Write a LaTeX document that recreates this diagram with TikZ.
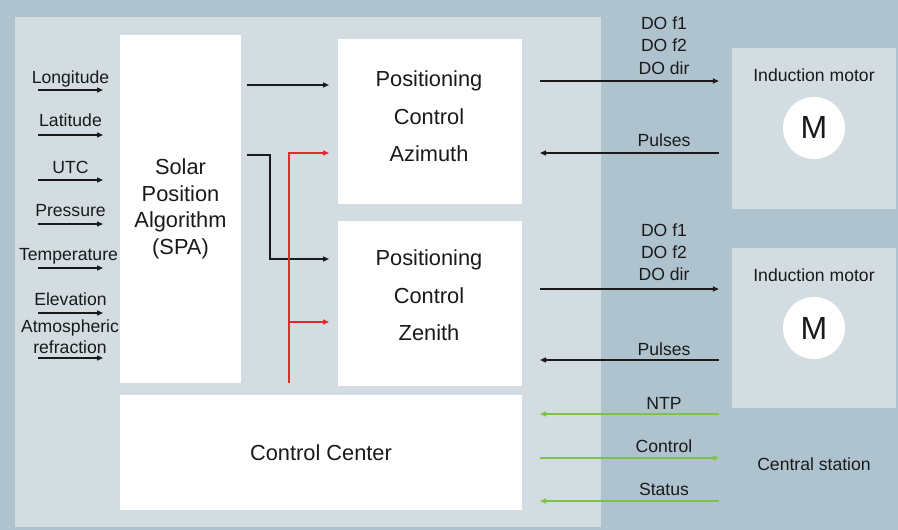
\documentclass[tikz,border=0pt]{standalone}
\usepackage{fontspec}
\setmainfont{Liberation Sans}
\usetikzlibrary{arrows.meta,calc}
\definecolor{outerbg}{HTML}{AFC3CE}
\definecolor{panelbg}{HTML}{D3DCE0}
\definecolor{ink}{HTML}{1A1A1A}
\definecolor{redl}{HTML}{E4262E}
\definecolor{greenl}{HTML}{7DC24A}
\begin{document}
\begin{tikzpicture}[x=1pt,y=-1pt,
  box/.style={fill=white,draw=none,inner sep=0pt,outer sep=0pt},
  lbl/.style={font=\fontsize{17.6}{22}\selectfont,text=ink,inner sep=0pt,anchor=base,align=center},
  big/.style={font=\fontsize{21.8}{26.5}\selectfont,text=ink,inner sep=0pt,anchor=base,align=center},
  arr/.style={draw=ink,line width=1.4pt,-{Triangle[length=6pt,width=5pt]}},
  redarr/.style={draw=redl,line width=1.4pt,-{Triangle[length=6pt,width=5pt]}},
  grarr/.style={draw=greenl,line width=1.4pt,-{Triangle[length=6pt,width=5pt]}}]
\useasboundingbox (0,0) rectangle (898,530);
\fill[outerbg] (0,0) rectangle (898,530);
\fill[panelbg] (15,17) rectangle (601,527);
% boxes
\node[box,minimum width=121pt,minimum height=348pt] (spa) at (180.5,209) {};
\node[box,minimum width=402pt,minimum height=115pt] (cc) at (321,452.5) {};
\node[box,minimum width=184pt,minimum height=165pt] (az) at (430,121.5) {};
\node[box,minimum width=184pt,minimum height=165pt] (ze) at (430,303.5) {};
\node[fill=panelbg,inner sep=0pt,minimum width=164pt,minimum height=161pt] (m1) at (814,128.5) {};
\node[fill=panelbg,inner sep=0pt,minimum width=164pt,minimum height=160pt] (m2) at (814,328) {};
\node[circle,fill=white,minimum size=62pt,inner sep=0pt] (c1) at (814,128) {};
\node[circle,fill=white,minimum size=62pt,inner sep=0pt] (c2) at (814,328) {};
% texts in boxes
\node[big] (tspa) at (180.5,254) {Solar\\Position\\Algorithm\\(SPA)};
\node[big,font=\fontsize{21.8}{37.5}\selectfont] (taz) at (429,161.7) {Positioning\\Control\\Azimuth};
\node[big,font=\fontsize{21.8}{37.5}\selectfont] (tze) at (429,340.7) {Positioning\\Control\\Zenith};
\node[big] (tcc) at (321,460) {Control Center};
\node[lbl] (tm1) at (814,81.7) {Induction motor};
\node[lbl] (tm2) at (814,281.7) {Induction motor};
\node[lbl,font=\fontsize{32}{32}\selectfont] (M1) at (814,138.3) {M};
\node[lbl,font=\fontsize{32}{32}\selectfont] (M2) at (814,339.3) {M};
\node[lbl] (tcs) at (814,470.7) {Central station};
% input labels
\node[lbl] (l1) at (70.5,83.3) {Longitude};
\node[lbl] (l2) at (70.5,126) {Latitude};
\node[lbl] (l3) at (70.5,173.3) {UTC};
\node[lbl] (l4) at (70.5,216.7) {Pressure};
\node[lbl] (l5) at (68.5,260) {Temperature};
\node[lbl] (l6) at (70.5,305.7) {Elevation};
\node[lbl,font=\fontsize{17.6}{20.6}\selectfont] (l7) at (70,353.3) {Atmospheric\\refraction};
% input arrows
\foreach \n/\y in {1/90,2/135,3/180,4/224,5/268,6/313,7/358}{
  \coordinate (i\n) at (38,\y);
  \draw[arr,shorten >=17pt] (i\n) -- (i\n -| spa.west);
}
% SPA outputs
\coordinate (s1) at (247,85);
\draw[arr,shorten >=9pt] (s1) -- (s1 -| az.west);
\coordinate (s2) at (247,155);
\coordinate (s2b) at (270,155);
\coordinate (s2c) at (270,259);
\draw[arr,shorten >=9pt] (s2) -- (s2b) -- (s2c) -- (s2c -| ze.west);
% red control lines
\coordinate (r0) at (289,383);
\coordinate (r1) at (289,153);
\coordinate (r2) at (289,322);
\draw[redarr,shorten >=9pt] (r0) -- (r1) -- (r1 -| az.west);
\draw[redarr,shorten >=9pt] (r2) -- (r2 -| ze.west);
% right side labels
\node[lbl] (d1) at (664,74) {DO f1\\DO f2\\DO dir};
\node[lbl] (p1) at (664,146.7) {Pulses};
\node[lbl] (d2) at (664,280.7) {DO f1\\DO f2\\DO dir};
\node[lbl] (p2) at (664,355.7) {Pulses};
\node[lbl] (ntp) at (664,409) {NTP};
\node[lbl] (ctl) at (664,452.7) {Control};
\node[lbl] (sts) at (664,495) {Status};
% right side arrows
\coordinate (y1) at (0,81);
\coordinate (y2) at (0,153);
\coordinate (y3) at (0,289);
\coordinate (y4) at (0,360);
\draw[arr,shorten <=18pt,shorten >=13pt] (az.east |- y1) -- (m1.west |- y1);
\draw[arr,shorten <=13pt,shorten >=18pt] (m1.west |- y2) -- (az.east |- y2);
\draw[arr,shorten <=18pt,shorten >=13pt] (ze.east |- y3) -- (m2.west |- y3);
\draw[arr,shorten <=13pt,shorten >=18pt] (m2.west |- y4) -- (ze.east |- y4);
% green lines
\coordinate (g1) at (719,414);
\coordinate (g2) at (719,458);
\coordinate (g3) at (719,501);
\draw[grarr,shorten >=18pt] (g1) -- (g1 -| cc.east);
\draw[grarr,shorten <=18pt] (g2 -| cc.east) -- (g2);
\draw[grarr,shorten >=18pt] (g3) -- (g3 -| cc.east);
\end{tikzpicture}
\end{document}
